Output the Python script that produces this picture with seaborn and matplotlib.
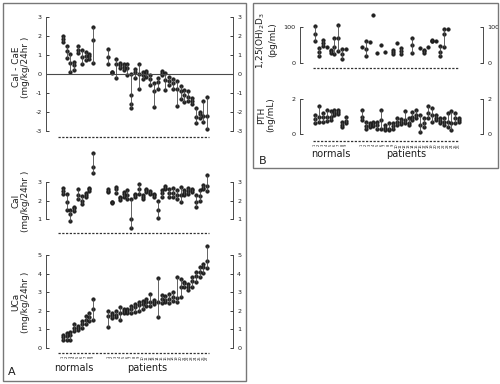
import matplotlib
matplotlib.use("Agg")
import matplotlib.pyplot as plt
import seaborn as sns
import pandas as pd
from matplotlib.patches import Rectangle

sns.set_style("white")
plt.rcParams['font.family'] = ['DejaVu Sans']

INK = '#1e1e1e'
GREY = '#4a4a4a'

# subject positions: 9 normals, gap, then patients
normals_x = list(range(0, 9))
patients_x = list(range(12, 39))

# panel A, top: CaI - CaE (points measured for each subject)
bal_norm = [(1.7, 1.85, 2.0), (0.85, 1.2, 1.5), (0.1, 0.6, 1.05), (0.2, 0.45, 0.65), (1.1, 1.25, 1.5),
            (0.5, 0.9, 1.25), (0.75, 0.95, 1.15), (0.8, 0.95, 1.05), (0.6, 1.8, 2.5)]
bal_pat = [(0.5, 0.9, 1.3), (0.05, 0.08, 0.1), (-0.2, 0.55, 0.8), (0.3, 0.45, 0.6), (0.2, 0.35, 0.5),
           (-0.05, 0.3, 0.5), (-1.8, -1.6, -1.1, 0.0), (-0.2, 0.1, 0.25), (-0.8, 0.0, 0.55),
           (-0.25, -0.05, 0.1), (-0.15, 0.05, 0.15), (-0.6, -0.25, -0.05), (-1.75, -0.9, -0.45),
           (-0.8, -0.4, -0.2), (-0.05, 0.05, 0.15), (-0.85, -0.3, 0.05), (-0.6, -0.35, -0.15),
           (-0.8, -0.5, -0.25), (-1.7, -0.8, -0.35), (-1.3, -0.9, -0.65), (-1.5, -1.1, -0.85),
           (-1.4, -1.2, -0.9), (-1.6, -1.4, -1.25), (-2.6, -2.25, -1.8), (-2.3, -2.1, -2.0),
           (-2.55, -2.2, -1.4), (-2.9, -2.2, -1.2)]

# panel A, middle: CaI
cai_norm = [(2.35, 2.5, 2.7), (1.5, 1.9, 2.35), (0.9, 1.3, 1.5), (1.45, 1.6, 1.65), (2.1, 2.3, 2.65),
            (1.8, 2.0, 2.25), (2.2, 2.3, 2.4), (2.5, 2.6, 2.7), (3.5, 3.8, 4.55)]
cai_pat = [(2.45, 2.5, 2.6), (1.85, 1.9, 1.95), (2.4, 2.6, 2.75), (2.05, 2.15, 2.2), (2.2, 2.35, 2.45),
           (2.1, 2.3, 2.55), (0.5, 1.0, 2.1), (2.2, 2.3, 2.35), (2.35, 2.6, 2.9), (2.1, 2.2, 2.3),
           (2.45, 2.55, 2.65), (2.35, 2.4, 2.5), (2.2, 2.3, 2.35), (1.05, 1.5, 2.0), (2.2, 2.4, 2.55),
           (2.65, 2.7, 2.8), (2.2, 2.4, 2.6), (2.2, 2.4, 2.7), (2.1, 2.3, 2.55), (1.95, 2.3, 2.75),
           (2.3, 2.4, 2.55), (2.35, 2.5, 2.7), (2.45, 2.55, 2.65), (1.65, 1.9, 2.3), (2.0, 2.25, 2.55),
           (2.6, 2.7, 2.85), (2.5, 2.8, 3.4)]

# panel A, bottom: UCa
uca_norm = [(0.45, 0.6, 0.7), (0.45, 0.65, 0.8), (0.45, 0.7, 0.85), (0.9, 1.05, 1.3), (0.95, 1.1, 1.2),
            (1.1, 1.3, 1.45), (1.3, 1.5, 1.7), (1.45, 1.65, 1.9), (1.5, 2.1, 2.65)]
uca_pat = [(1.15, 1.7, 2.0), (1.6, 1.75, 1.9), (1.65, 1.8, 2.0), (1.5, 1.9, 2.2), (1.9, 2.0, 2.1),
           (1.9, 2.0, 2.1), (1.9, 2.1, 2.25), (1.95, 2.2, 2.35), (2.0, 2.3, 2.5), (2.1, 2.35, 2.55),
           (2.25, 2.45, 2.65), (2.25, 2.5, 2.9), (2.35, 2.5, 2.6), (1.65, 2.45, 3.75), (2.4, 2.65, 2.85),
           (2.5, 2.6, 2.8), (2.4, 2.65, 2.9), (2.55, 2.75, 3.0), (2.5, 2.7, 3.85), (2.75, 3.3, 3.7),
           (3.3, 3.5, 3.55), (3.1, 3.3, 3.45), (3.3, 3.6, 3.85), (3.55, 3.9, 4.1), (3.8, 4.1, 4.35),
           (4.05, 4.35, 4.55), (4.3, 4.7, 5.5)]

# panel B, top: 1,25(OH)2D3 (patients with data only)
d3_norm = [(62, 80, 102), (19, 30, 43), (48, 55, 64), (45,), (29, 33, 35), (24, 45, 70),
           (33, 70, 105), (12, 25, 38), (38,)]
d3_pat_x = [12, 13, 14, 15, 16, 17, 18, 20, 21, 22, 25, 27, 28, 29, 30, 31, 32, 33, 34]
d3_pat = [(45,), (19, 40, 62), (59,), (133,), (29,), (50,), (31,), (24, 30, 35), (57,), (26, 32, 41),
          (29, 50, 70), (43,), (29, 33, 35), (45,), (60, 62, 63), (61,), (19, 30, 48), (45, 80, 95), (95,)]

# panel B, bottom: PTH
pth_norm = [(0.6, 0.85, 1.1), (0.7, 1.0, 1.6), (0.7, 0.95, 1.2), (0.75, 1.0, 1.4), (0.8, 1.0, 1.3),
            (1.1, 1.2, 1.35), (1.15, 1.25, 1.4), (0.4, 0.5, 0.7), (0.6, 0.75, 0.95)]
pth_pat_x = list(range(12, 38))
pth_pat = [(0.8, 1.0, 1.4), (0.3, 0.45, 0.7), (0.4, 0.5, 0.6), (0.45, 0.6, 0.7), (0.3, 0.5, 0.7),
           (0.3, 0.8, 1.4), (0.25, 0.35, 0.5), (0.2, 0.3, 0.6), (0.3, 0.45, 0.6), (0.5, 0.7, 0.9),
           (0.55, 0.7, 0.85), (0.6, 0.8, 1.3), (0.5, 0.6, 0.9), (0.8, 1.0, 1.25), (0.9, 1.1, 1.4),
           (0.1, 0.5, 1.1), (0.4, 0.6, 0.9), (0.9, 1.2, 1.6), (0.7, 1.1, 1.5), (0.8, 0.9, 1.1),
           (0.6, 0.75, 0.9), (0.5, 0.7, 0.9), (0.4, 0.7, 1.2), (0.2, 0.6, 1.3), (0.6, 0.9, 1.2),
           (0.7, 0.8, 0.9)]

W, H = 500, 384
fig = plt.figure(figsize=(5, 3.84), dpi=100)


def px_axes(x0, y0, x1, y1):
    return fig.add_axes([x0 / W, 1 - y1 / H, (x1 - x0) / W, (y1 - y0) / H])


def to_frame(xs, groups):
    rows = []
    for x, vals in zip(xs, groups):
        for v in vals:
            rows.append({'x': x, 'y': v, 'lo': min(vals), 'hi': max(vals)})
    return pd.DataFrame(rows)


def draw_panel(ax, frames, xlim, ylim, ticks, base, base_span):
    df = pd.concat(frames, ignore_index=True)
    rng = df.drop_duplicates('x')
    ax.vlines(rng['x'], rng['lo'], rng['hi'], color=GREY, lw=0.6)
    sns.scatterplot(data=df, x='x', y='y', ax=ax, color=INK, s=7, marker='o',
                    edgecolor=INK, linewidth=0.3, legend=False)
    # dotted baseline under each panel
    ax.plot(base_span, [base, base], color='#333333', lw=0.9, ls=(0, (1.8, 1.2)), clip_on=False)
    ax.set_xlim(*xlim)
    ax.set_ylim(*ylim)
    ax.set_xlabel('')
    ax.set_ylabel('')
    ax.set_xticks([])
    ax.set_yticks(ticks)
    ax.set_yticklabels([str(t) for t in ticks])
    for s in ['top', 'bottom']:
        ax.spines[s].set_visible(False)
    for s in ['left', 'right']:
        ax.spines[s].set_bounds(ticks[0], ticks[-1])
        ax.spines[s].set_color(GREY)
        ax.spines[s].set_linewidth(0.7)
    ax.tick_params(axis='y', left=True, right=True, labelleft=True, labelright=True,
                   direction='in', length=2.5, width=0.6, labelsize=4.6, colors=INK, pad=3)
    ax.patch.set_alpha(0)


xa = (-4.4, 44.8)
xb = (-3.85, 43.1)

# panel A
a1 = px_axes(46, 14, 233, 137)
draw_panel(a1, [to_frame(normals_x, bal_norm), to_frame(patients_x, bal_pat)],
           xa, (-3.32, 3.16), [-3, -2, -1, 0, 1, 2, 3], -3.3, (-1.2, 38.4))
a1.axhline(0, color=GREY, lw=0.8)

a2 = px_axes(46, 150, 233, 234)
draw_panel(a2, [to_frame(normals_x, cai_norm), to_frame(patients_x, cai_pat)],
           xa, (0.2, 4.73), [1, 2, 3], 0.25, (-1.2, 38.4))

a3 = px_axes(46, 243, 233, 354)
draw_panel(a3, [to_frame(normals_x, uca_norm), to_frame(patients_x, uca_pat)],
           xa, (-0.33, 5.66), [0, 1, 2, 3, 4, 5], -0.3, (-1.2, 38.4))
a3.set_xticks(normals_x + patients_x)
a3.set_xticklabels([str(i + 1) for i in range(9)] + [str(i + 1) for i in range(27)],
                   fontsize=2.6, rotation=90, color=INK)
a3.tick_params(axis='x', length=0, pad=1)

# panel B
b1 = px_axes(300, 10, 483, 69)
draw_panel(b1, [to_frame(normals_x, d3_norm), to_frame(d3_pat_x, d3_pat)],
           xb, (-17, 148), [0, 100], -15, (-0.5, 36.8))

b2 = px_axes(300, 95, 483, 142)
draw_panel(b2, [to_frame(normals_x, pth_norm), to_frame(pth_pat_x, pth_pat)],
           xb, (-0.47, 2.24), [0, 2], -0.44, (-0.5, 36.8))
b2.set_xticks(normals_x + pth_pat_x)
b2.set_xticklabels([str(i + 1) for i in range(9)] + [str(i + 1) for i in range(26)],
                   fontsize=2.6, rotation=90, color=INK)
b2.tick_params(axis='x', length=0, pad=1)

# y labels
lab = dict(rotation=90, ha='center', va='center', fontsize=6.4, color=INK, linespacing=1.1)
fig.text(21 / W, 1 - 67 / H, 'CaI - CaE\n(mg/kg/24hr )', **lab)
fig.text(21 / W, 1 - 201 / H, 'CaI\n(mg/kg/24hr )', **lab)
fig.text(21 / W, 1 - 302 / H, 'UCa\n(mg/kg/24hr )', **lab)
fig.text(266 / W, 1 - 40 / H, '1,25(OH)$_2$D$_3$\n(pg/mL)', **lab)
fig.text(266 / W, 1 - 115 / H, 'PTH\n(ng/mL)', **lab)

# group names and panel letters
txt = dict(ha='center', va='center', fontsize=7, color=INK)
fig.text(74 / W, 1 - 368 / H, 'normals', **txt)
fig.text(147 / W, 1 - 368 / H, 'patients', **txt)
fig.text(331 / W, 1 - 154 / H, 'normals', **txt)
fig.text(406 / W, 1 - 154 / H, 'patients', **txt)
fig.text(12 / W, 1 - 372 / H, 'A', fontsize=8, color=INK, ha='center', va='center')
fig.text(263 / W, 1 - 161 / H, 'B', fontsize=8, color=INK, ha='center', va='center')

# panel frames
fig.add_artist(Rectangle((3 / W, 1 - 381 / H), 243 / W, 378 / H, transform=fig.transFigure,
                         fill=False, ec='#777777', lw=1.0))
fig.add_artist(Rectangle((253 / W, 1 - 168 / H), 245 / W, 165 / H, transform=fig.transFigure,
                         fill=False, ec='#777777', lw=1.0))

fig.savefig('out.png', dpi=100)
